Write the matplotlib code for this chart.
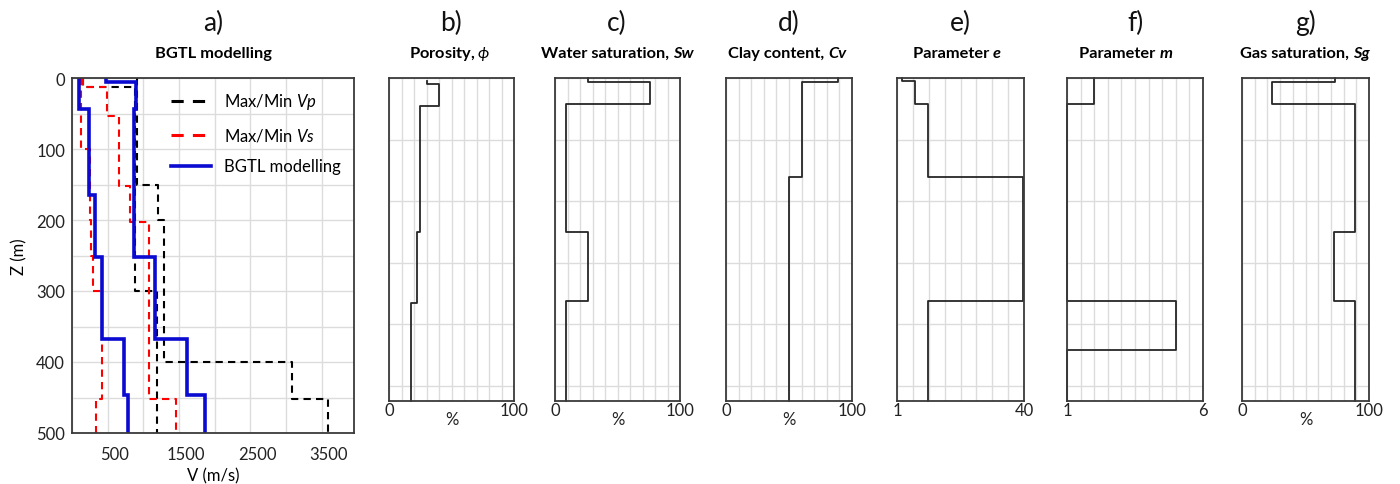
import numpy as np
import matplotlib
matplotlib.use("Agg")
import matplotlib.pyplot as plt
from matplotlib.lines import Line2D
from matplotlib.transforms import ScaledTranslation

plt.rcParams["font.family"] = ["Lato", "DejaVu Sans"]
plt.rcParams["mathtext.fontset"] = "custom"
plt.rcParams["mathtext.rm"] = "Lato"
plt.rcParams["mathtext.it"] = "Lato:italic"
plt.rcParams["mathtext.bf"] = "Lato:bold"

# -----------------------------
# Panel a) velocity profiles (depth edges in m, velocities in m/s)
# -----------------------------
vp_min_z = [0, 12, 300, 500]
vp_min = [160, 885, 1190]
vp_max_z = [0, 150, 200, 400, 452, 500]
vp_max = [910, 1200, 1290, 3080, 3590]

vs_min_z = [0, 100, 200, 250, 300, 452, 500]
vs_min = [120, 255, 270, 295, 420, 335]
vs_max_z = [0, 12, 53, 152, 203, 452, 500]
vs_max = [150, 495, 655, 815, 1075, 1460]

model_z = [0, 6, 44, 165, 252, 367, 447, 500]
vp_model = [470, 900, 862, 862, 1166, 1610, 1866]
vs_model = [105, 105, 245, 326, 420, 732, 778]

# -----------------------------
# Panels b) - g) rock properties (depth edges in m)
# -----------------------------
por_z = [5, 10, 45, 250, 365, 525]
porosity = [30, 40, 24.5, 22.5, 17.5]

sw_z = [0, 6, 43, 250, 363, 525]
sw = [26, 76, 9, 26.5, 9]

cv_z = [0, 6, 161, 525]
cv = [89, 60, 50]

e_z = [0, 5, 43, 161, 362, 525]
e_vals = [2.6, 6.6, 10.5, 39.6, 10.5]

m_z = [0, 42, 363, 442, 525]
m_vals = [2, 1, 5, 1]

sg_z = [0, 6, 43, 250, 363, 525]
sg = [73.5, 23.6, 89.2, 72.4, 89.2]


def steps(values, edges):
    # step profile: constant value inside each depth interval
    xs = np.repeat(values, 2)
    ys = np.column_stack([edges[:-1], edges[1:]]).ravel()
    return xs, ys


W, H = 1400, 485
fig = plt.figure(figsize=(14, 4.85), dpi=100)


def px_axes(x0, x1, y0, y1):
    return fig.add_axes([x0 / W, 1 - y1 / H, (x1 - x0) / W, (y1 - y0) / H])


def rich_text(xc, y, parts, size):
    r = fig.canvas.get_renderer()
    texts = []
    for s, style in parts:
        t = fig.text(0, 1 - y / H, s, fontsize=size, fontweight="bold",
                     fontstyle=style, va="center", ha="left")
        texts.append(t)
    widths = [t.get_window_extent(r).width for t in texts]
    x = xc - sum(widths) / 2
    for t, w in zip(texts, widths):
        t.set_x(x / W)
        x += w


spine_col = "#3a3a3a"
grid_col = "#dcdcdc"

# -----------------------------
# a) BGTL modelling
# -----------------------------
ax = px_axes(72, 354, 79, 434)
ax.set_xlim(0, 3950)
ax.set_ylim(500, 0)
ax.set_xticks(np.arange(0, 4000, 500))
ax.set_xticklabels(["" if v % 1000 == 0 else str(v) for v in np.arange(0, 4000, 500)])
ax.set_yticks(np.arange(0, 501, 50))
ax.set_yticklabels([str(v) if v % 100 == 0 else "" for v in np.arange(0, 501, 50)])
ax.grid(True, color=grid_col, lw=1)
ax.set_axisbelow(True)
ax.tick_params(length=0, labelsize=12, colors="#222222")
ax.tick_params(axis="x", pad=9)
ax.tick_params(axis="y", pad=5)
shift = ScaledTranslation(7 / 100, 0, fig.dpi_scale_trans)
for lab in ax.get_xticklabels():
    lab.set_transform(lab.get_transform() + shift)
for s in ax.spines.values():
    s.set_color(spine_col)
    s.set_linewidth(1.3)

for vals, z in [(vp_min, vp_min_z), (vp_max, vp_max_z)]:
    ax.plot(*steps(vals, z), color="black", lw=1.5, ls=(0, (3.5, 2.5)))
for vals, z in [(vs_min, vs_min_z), (vs_max, vs_max_z)]:
    ax.plot(*steps(vals, z), color="red", lw=1.5, ls=(0, (3.5, 2.5)))
for vals in [vp_model, vs_model]:
    ax.plot(*steps(vals, model_z), color="#0a0ad0", lw=2.6, solid_joinstyle="miter")

handles = [
    Line2D([], [], color="black", lw=2.2, ls=(0, (4, 3))),
    Line2D([], [], color="red", lw=2.2, ls=(0, (4, 3))),
    Line2D([], [], color="#0a0ad0", lw=2.6),
]
labels = ["Max/Min $\\mathit{Vp}$", "Max/Min $\\mathit{Vs}$", "BGTL modelling"]
ax.legend(handles, labels, loc="upper right", frameon=False, fontsize=12,
          handlelength=2.4, labelspacing=0.9, borderaxespad=0.4, handletextpad=0.8)
ax.set_xlabel("V (m/s)", fontsize=12, labelpad=4)
ax.set_ylabel("Z (m)", fontsize=12, labelpad=6)

# -----------------------------
# b) - g) property panels
# -----------------------------
panels = [
    ((389, 514), porosity, por_z, (0, 100), np.arange(0, 101, 10), True),
    ((555, 680), sw, sw_z, (0, 100), np.arange(0, 101, 10), True),
    ((726, 852), cv, cv_z, (0, 100), np.arange(0, 101, 10), True),
    ((897, 1024), e_vals, e_z, (1, 40), np.linspace(1, 40, 9), False),
    ((1067, 1203), m_vals, m_z, (1, 6), np.arange(1, 6.01, 0.5), False),
    ((1242, 1369), sg, sg_z, (0, 100), np.arange(0, 101, 10), True),
]

for (x0, x1), vals, z, lims, grid_x, pct in panels:
    ax = px_axes(x0, x1, 79, 402)
    ax.set_xlim(*lims)
    ax.set_ylim(525, 0)
    ax.set_xticks(grid_x)
    ax.set_xticklabels(["%g" % lims[0]] + [""] * (len(grid_x) - 2) + ["%g" % lims[1]])
    ax.set_yticks(np.arange(0, 501, 100))
    ax.set_yticklabels([])
    ax.grid(True, color=grid_col, lw=1)
    ax.set_axisbelow(True)
    ax.tick_params(length=0, labelsize=12, pad=1, colors="#222222")
    for s in ax.spines.values():
        s.set_color(spine_col)
        s.set_linewidth(1.3)
    ax.plot(*steps(vals, z), color="#262626", lw=1.3, clip_on=False)
    if pct:
        ax.annotate("%", xy=(50, 0), xycoords=("data", "axes fraction"),
                    xytext=(0, -7), textcoords="offset points",
                    ha="center", va="top", fontsize=12, color="#222222")

# -----------------------------
# Titles
# -----------------------------
letters = ["a)", "b)", "c)", "d)", "e)", "f)", "g)"]
centers = [213, 451, 617, 789, 960, 1135, 1306]
for lab, xc in zip(letters, centers):
    fig.text(xc / W, 1 - 23 / H, lab, fontsize=19, ha="center", va="center",
             color="#111111")

subtitles = [
    [("BGTL modelling", "normal")],
    [("Porosity, $\\phi$", "normal")],
    [("Water saturation, ", "normal"), ("Sw", "italic")],
    [("Clay content, ", "normal"), ("Cv", "italic")],
    [("Parameter ", "normal"), ("e", "italic")],
    [("Parameter ", "normal"), ("m", "italic")],
    [("Gas saturation, ", "normal"), ("Sg", "italic")],
]
sub_centers = [213, 450, 617, 787, 957, 1126, 1305]
for parts, xc in zip(subtitles, sub_centers):
    rich_text(xc, 54, parts, 11.8)

fig.savefig("out.png", dpi=100)
